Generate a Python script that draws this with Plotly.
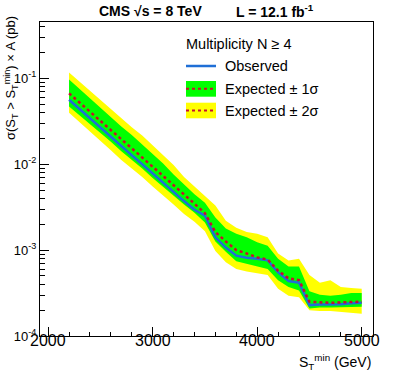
import plotly.graph_objects as go

# Limit scan points, S_T^min in GeV
st_min = [2200, 2300, 2400, 2500, 2600, 2700, 2800, 2900, 3000, 3100,
          3200, 3300, 3400, 3500, 3600, 3700, 3800, 3900, 4000, 4100,
          4200, 4300, 4400, 4500, 4600, 4700, 4800, 4900, 5000]

# sigma x A limits in pb
observed = [5.62e-2, 4.37e-2, 3.39e-2, 2.66e-2, 2.09e-2, 1.62e-2, 1.27e-2, 1.00e-2, 7.76e-3, 6.10e-3,
            4.79e-3, 3.72e-3, 2.95e-3, 2.51e-3, 1.41e-3, 1.07e-3, 8.61e-4, 8.13e-4, 7.94e-4, 7.59e-4,
            5.50e-4, 4.37e-4, 4.17e-4, 2.29e-4, 2.32e-4, 2.32e-4, 2.34e-4, 2.40e-4, 2.43e-4]
expected = [6.68e-2, 5.25e-2, 4.07e-2, 3.20e-2, 2.51e-2, 1.95e-2, 1.53e-2, 1.20e-2, 9.33e-3, 7.33e-3,
            5.75e-3, 4.47e-3, 3.47e-3, 2.69e-3, 1.62e-3, 1.26e-3, 1.00e-3, 9.12e-4, 8.22e-4, 7.76e-4,
            5.75e-4, 4.68e-4, 4.47e-4, 2.51e-4, 2.46e-4, 2.43e-4, 2.46e-4, 2.51e-4, 2.51e-4]
exp_1s_up = [9.66e-2, 7.50e-2, 5.82e-2, 4.52e-2, 3.55e-2, 2.75e-2, 2.19e-2, 1.70e-2, 1.32e-2, 1.02e-2,
             7.59e-3, 5.75e-3, 4.47e-3, 3.55e-3, 2.40e-3, 1.78e-3, 1.55e-3, 1.41e-3, 1.23e-3, 1.12e-3,
             7.94e-4, 6.46e-4, 6.46e-4, 3.31e-4, 3.02e-4, 2.95e-4, 3.02e-4, 3.16e-4, 3.16e-4]
exp_1s_down = [4.68e-2, 3.72e-2, 2.92e-2, 2.29e-2, 1.82e-2, 1.41e-2, 1.12e-2, 8.91e-3, 6.92e-3, 5.50e-3,
               4.27e-3, 3.39e-3, 2.72e-3, 2.09e-3, 1.26e-3, 9.55e-4, 7.41e-4, 6.92e-4, 6.46e-4, 6.03e-4,
               4.47e-4, 3.72e-4, 3.39e-4, 2.09e-4, 2.14e-4, 2.14e-4, 2.16e-4, 2.19e-4, 2.19e-4]
exp_2s_up = [1.164e-1, 9.12e-2, 7.08e-2, 5.50e-2, 4.27e-2, 3.39e-2, 2.69e-2, 2.16e-2, 1.66e-2, 1.26e-2,
             9.77e-3, 7.08e-3, 5.50e-3, 4.27e-3, 3.31e-3, 2.19e-3, 1.82e-3, 1.62e-3, 1.55e-3, 1.41e-3,
             9.12e-4, 7.59e-4, 7.94e-4, 5.13e-4, 4.17e-4, 4.47e-4, 3.72e-4, 3.63e-4, 3.55e-4]
exp_2s_down = [3.98e-2, 3.09e-2, 2.40e-2, 1.86e-2, 1.45e-2, 1.12e-2, 8.91e-3, 7.08e-3, 5.50e-3, 4.27e-3,
               3.39e-3, 2.63e-3, 2.14e-3, 1.66e-3, 9.77e-4, 7.24e-4, 6.03e-4, 5.62e-4, 5.37e-4, 5.13e-4,
               3.55e-4, 2.95e-4, 2.82e-4, 2.00e-4, 1.95e-4, 1.95e-4, 1.91e-4, 1.86e-4, 1.82e-4]

y_tick_vals = [1e-4, 1e-3, 1e-2, 1e-1]
y_tick_text = ["10<sup>-4</sup>", "10<sup>-3</sup>", "10<sup>-2</sup>", "10<sup>-1</sup>"]
x_tick_vals = [2000, 3000, 4000, 5000]

W, H = 393, 374
L, R, T, B = 40, 20, 22, 38
FONT = "Liberation Sans, Arial, Helvetica, sans-serif"
YELLOW = "#ffff00"
GREEN = "#00ff00"
RED = "#c8102e"
BLUE = "#1f6fd6"


def px_x(px):
    return (px - L) / (W - L - R)


def px_y(py):
    return (H - B - py) / (H - T - B)


fig = go.Figure()

# +-2 sigma band
fig.add_trace(go.Scatter(x=st_min + st_min[::-1], y=exp_2s_up + exp_2s_down[::-1],
                         fill="toself", fillcolor=YELLOW, mode="lines", line=dict(width=0),
                         hoverinfo="skip", showlegend=False))
# +-1 sigma band
fig.add_trace(go.Scatter(x=st_min + st_min[::-1], y=exp_1s_up + exp_1s_down[::-1],
                         fill="toself", fillcolor=GREEN, mode="lines", line=dict(width=0),
                         hoverinfo="skip", showlegend=False))
fig.add_trace(go.Scatter(x=st_min, y=observed, mode="lines",
                         line=dict(color=BLUE, width=2.5), showlegend=False))
fig.add_trace(go.Scatter(x=st_min, y=expected, mode="lines",
                         line=dict(color=RED, width=2.5, dash="dot"), showlegend=False))

# hand made legend, ROOT style
shapes = []
annots = []
shapes.append(dict(type="line", xref="paper", yref="paper", x0=px_x(186), x1=px_x(216),
                   y0=px_y(66), y1=px_y(66), line=dict(color=BLUE, width=2.5)))
for top, bot, col in [(81, 96.7, GREEN), (102.7, 118.3, YELLOW)]:
    shapes.append(dict(type="rect", xref="paper", yref="paper", x0=px_x(186), x1=px_x(216),
                       y0=px_y(bot), y1=px_y(top), fillcolor=col, line=dict(width=0)))
    mid = (top + bot) / 2
    shapes.append(dict(type="line", xref="paper", yref="paper", x0=px_x(186), x1=px_x(216),
                       y0=px_y(mid), y1=px_y(mid), line=dict(color=RED, width=2, dash="dot")))

annots.append(dict(text="Multiplicity N \u2265 4", x=px_x(184), y=px_y(44), xanchor="left",
                   yanchor="middle", font=dict(size=14.5)))
for txt, py in [("Observed", 66), ("Expected \u00b1 1\u03c3", 89), ("Expected \u00b1 2\u03c3", 111)]:
    annots.append(dict(text=txt, x=px_x(223), y=px_y(py), xanchor="left", yanchor="middle",
                       font=dict(size=14.5)))

# header
annots.append(dict(text="<b>CMS \u221as = 8 TeV</b>", x=px_x(97), y=px_y(11), xanchor="left",
                   yanchor="middle", font=dict(size=14)))
annots.append(dict(text="<b>L = 12.1 fb<sup>-1</sup></b>", x=px_x(234), y=px_y(11), xanchor="left",
                   yanchor="middle", font=dict(size=14)))

# axis titles
annots.append(dict(text="S<sub>T</sub><sup>min</sup> (GeV)", x=1.0, y=px_y(362), xanchor="right",
                   yanchor="middle", font=dict(size=14)))
annots.append(dict(text="\u03c3(S<sub>T</sub> > S<sub>T</sub><sup>min</sup>) \u00d7 A (pb)",
                   x=px_x(11), y=px_y(78), xanchor="center", yanchor="middle", textangle=-90,
                   font=dict(size=13)))

for a in annots:
    a.update(xref="paper", yref="paper", showarrow=False)

# x tick labels sit tight under the axis like in ROOT
for v in x_tick_vals:
    annots.append(dict(text=str(v), x=v, xref="x", y=px_y(340), yref="paper",
                       xanchor="center", yanchor="middle", showarrow=False, font=dict(size=16)))

fig.update_layout(
    width=W, height=H,
    margin=dict(l=L, r=R, t=T, b=B),
    paper_bgcolor="white", plot_bgcolor="white",
    font=dict(family=FONT, color="black"),
    shapes=shapes, annotations=annots,
    showlegend=False,
)
fig.update_xaxes(range=[1922, 5108], tickmode="array", tickvals=x_tick_vals, showticklabels=False,
                 ticks="inside", ticklen=9, tickcolor="black",
                 minor=dict(ticks="inside", ticklen=4, dtick=200, tick0=2000, tickcolor="black",
                            showgrid=False),
                 showline=True, linecolor="black", linewidth=1, mirror=True, showgrid=False,
                 zeroline=False)
fig.update_yaxes(type="log", range=[-4, -0.345], tickmode="array", tickvals=y_tick_vals,
                 ticktext=y_tick_text, ticks="inside", ticklen=9, tickcolor="black",
                 tickfont=dict(size=13),
                 minor=dict(ticks="inside", ticklen=5, tickcolor="black", showgrid=False,
                            tickmode="array",
                            tickvals=[k * d for d in [1e-4, 1e-3, 1e-2, 1e-1] for k in range(2, 10)]),
                 showline=True, linecolor="black", linewidth=1, mirror=True, showgrid=False,
                 zeroline=False)

# the page body has a default 8px margin; drop it so the figure sits at the window corner
fig.write_html("out.html", config={"displayModeBar": False},
               post_script="document.body.style.margin='0px';")
